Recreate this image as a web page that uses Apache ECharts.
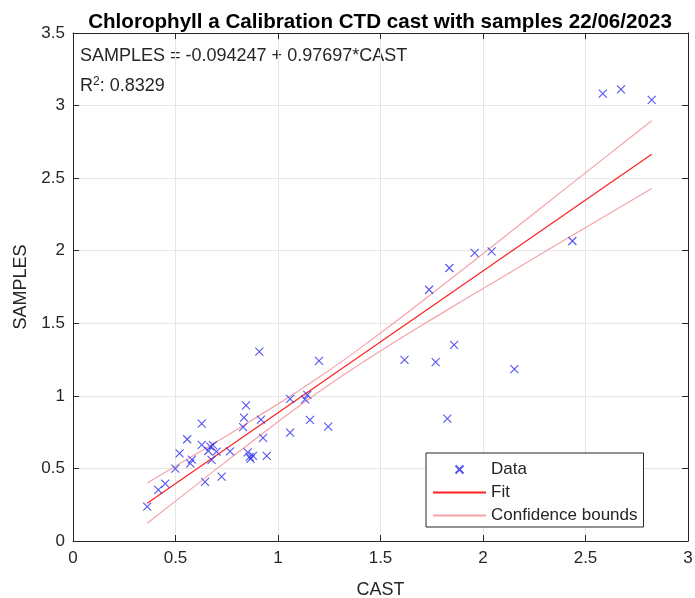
<!DOCTYPE html>
<html>
<head>
<meta charset="utf-8">
<script src="https://cdn.jsdelivr.net/npm/echarts@6/dist/echarts.min.js"></script>
<style>html,body{margin:0;padding:0;background:#fff}#c{width:695px;height:598px}</style>
</head>
<body>
<div id="c"></div>
<script>
// Data
const castValues = [0.362,0.416,0.450,0.499,0.520,0.557,0.572,0.580,0.628,0.628,0.644,0.660,0.670,0.676,0.683,0.700,0.725,0.766,0.830,0.834,0.844,0.852,0.862,0.878,0.866,0.909,0.917,0.927,0.945,1.059,1.059,1.132,1.143,1.156,1.200,1.245,1.617,1.737,1.769,1.826,1.836,1.859,1.959,2.042,2.153,2.436,2.584,2.673,2.823];
const sampleValues = [0.237,0.352,0.395,0.499,0.603,0.701,0.535,0.560,0.808,0.662,0.407,0.620,0.650,0.559,0.660,0.616,0.443,0.618,0.785,0.850,0.935,0.610,0.580,0.587,0.566,1.305,0.836,0.710,0.587,0.979,0.747,0.975,1.007,0.834,1.241,0.788,1.248,1.731,1.233,0.843,1.881,1.352,1.985,1.995,1.184,2.067,3.083,3.112,3.040];
const fitX = [0.362, 2.823];
const fitY = [0.260, 2.664];
const boundX = [0.362,0.6,0.863,1.2,1.5,1.8,2.1,2.4,2.823];
const boundUpper = [0.400,0.599,0.824,1.128,1.433,1.759,2.091,2.426,2.896];
const boundLower = [0.122,0.385,0.674,1.028,1.309,1.570,1.823,2.075,2.428];
const xTicks = ['0','0.5','1','1.5','2','2.5','3'];
const yTicks = ['0','0.5','1','1.5','2','2.5','3','3.5'];

const FONT = 'Liberation Sans, Arial, sans-serif';
const AX = '#262626';
const zip = (a, b) => a.map((v, i) => [v, b[i]]);

const chart = echarts.init(document.getElementById('c'), null, {renderer: 'canvas'});
const baseAxis = {
  axisLine: {show: true, onZero: false, lineStyle: {color: AX, width: 1}},
  axisTick: {show: true, inside: true, length: 6, lineStyle: {color: AX}},
  axisLabel: {color: AX, fontSize: 17, fontFamily: FONT},
  splitLine: {show: true, lineStyle: {color: '#e6e6e6', width: 1}}
};
const hiddenSymbol = {color: 'rgba(0,0,0,0)', borderColor: 'rgba(0,0,0,0)', borderWidth: 0, opacity: 0};
chart.setOption({
  animation: false,
  backgroundColor: '#fff',
  title: {
    text: 'Chlorophyll a Calibration CTD cast with samples 22/06/2023',
    left: 375, top: 7, textAlign: 'center',
    textStyle: {fontFamily: FONT, fontSize: 20.6, fontWeight: 'bold', color: '#000'}
  },
  grid: {left: 73, right: 7, top: 33, bottom: 57, outerBoundsMode: 'none', containLabel: false},
  xAxis: [
    Object.assign({}, baseAxis, {
      type: 'value', min: 0, max: 3, interval: 0.5, position: 'bottom',
      name: 'CAST', nameLocation: 'middle', nameGap: 40,
      nameTextStyle: {fontFamily: FONT, fontSize: 18, color: AX},
      axisLabel: Object.assign({}, baseAxis.axisLabel, {margin: 9, formatter: v => xTicks[Math.round(v / 0.5)]})
    }),
    Object.assign({}, baseAxis, {
      type: 'value', min: 0, max: 3, interval: 0.5, position: 'top',
      axisLabel: {show: false}, splitLine: {show: false}
    })
  ],
  yAxis: [
    Object.assign({}, baseAxis, {
      type: 'value', min: 0, max: 3.5, interval: 0.5, position: 'left',
      name: 'SAMPLES', nameLocation: 'middle', nameGap: 41, nameRotate: 90,
      nameTextStyle: {fontFamily: FONT, fontSize: 18, color: AX},
      axisLabel: Object.assign({}, baseAxis.axisLabel, {margin: 8, formatter: v => yTicks[Math.round(v / 0.5)]})
    }),
    Object.assign({}, baseAxis, {
      type: 'value', min: 0, max: 3.5, interval: 0.5, position: 'right',
      axisLabel: {show: false}, splitLine: {show: false}
    })
  ],
  legend: {
    orient: 'vertical', left: 426, top: 453,
    data: [{name: 'Data'}, {name: 'Fit', itemStyle: hiddenSymbol}, {name: 'Confidence bounds', itemStyle: hiddenSymbol}],
    backgroundColor: '#fff', borderColor: AX, borderWidth: 1,
    padding: [7, 6, 2, 6],
    itemWidth: 53, itemHeight: 8, itemGap: 4,
    textStyle: {fontFamily: FONT, fontSize: 17, color: AX, lineHeight: 19}
  },
  graphic: [
    {type: 'text', left: 80, top: 47, style: {text: 'SAMPLES = -0.094247 + 0.97697*CAST', font: '18px ' + FONT, fill: AX}},
    {type: 'text', left: 80, top: 76, style: {text: 'R{s|2}: 0.8329', font: '18px ' + FONT, fill: AX,
      rich: {s: {fontSize: 12, fontFamily: FONT, verticalAlign: 'top', padding: [0,0,8,0], fill: AX}}}}
  ],
  series: [
    {
      name: 'Data', type: 'scatter', data: zip(castValues, sampleValues),
      symbol: 'path://M0,0L10,10M10,0L0,10', symbolSize: 8,
      itemStyle: {color: 'rgba(0,0,0,0)', borderColor: '#2a2aee', borderWidth: 1.1},
      z: 5
    },
    {
      name: 'Fit', type: 'line', data: zip(fitX, fitY), showSymbol: false, symbol: 'none',
      lineStyle: {color: '#ff2020', width: 1.2}, itemStyle: {color: '#ff2020'}, z: 4
    },
    {
      name: 'Confidence bounds', type: 'line', data: zip(boundX, boundUpper), smooth: true, showSymbol: false, symbol: 'none',
      lineStyle: {color: '#f6a3a8', width: 1.2}, itemStyle: {color: '#f6a3a8'}, z: 3
    },
    {
      name: 'Confidence bounds', type: 'line', data: zip(boundX, boundLower), smooth: true, showSymbol: false, symbol: 'none',
      lineStyle: {color: '#f6a3a8', width: 1.2}, itemStyle: {color: '#f6a3a8'}, z: 3
    }
  ]
});
</script>
</body>
</html>
